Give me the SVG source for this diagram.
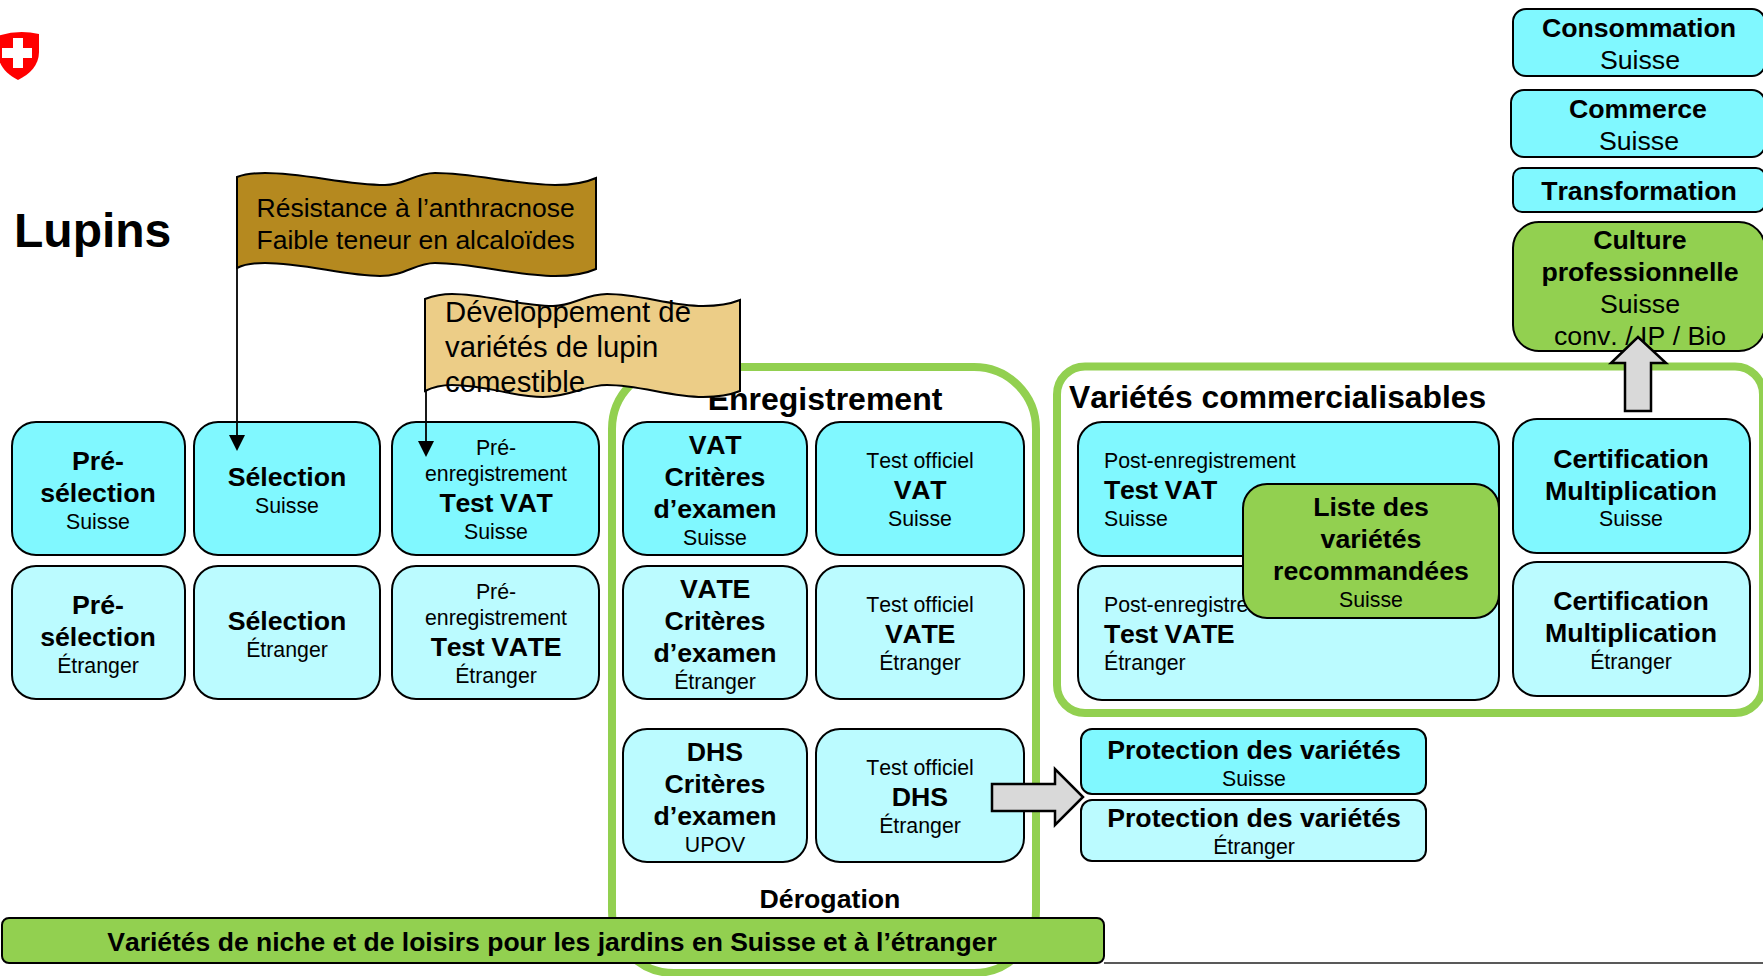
<svg xmlns="http://www.w3.org/2000/svg" width="1763" height="976" viewBox="0 0 1763 976">
<style>
text{font-family:"Liberation Sans",Arial,sans-serif;fill:#000;font-kerning:none}
.b{font-weight:700;font-size:26.7px}
.k{letter-spacing:-.35px}
.s{font-size:21.3px}
.t{font-size:26.7px}
.m{text-anchor:middle}
.n rect{stroke:#000;stroke-width:2}
.c{fill:#80F8FF}
.l{fill:#BBFBFF}
.g{fill:#92D050}
.frame{fill:#fff;stroke:#92D050;stroke-width:8}
.arrow{fill:#D9D9D9;stroke:#000;stroke-width:2.5}
.flag{stroke:#000;stroke-width:2}
.pole{fill:none;stroke:#000;stroke-width:1.8;marker-end:url(#tip)}
</style>
<defs>
<marker id="tip" markerUnits="userSpaceOnUse" markerWidth="16" markerHeight="16" refX="10" refY="8" orient="auto"><path d="M0 0L16 8L0 16Z" fill="#000"/></marker>
</defs>
<rect width="1763" height="976" fill="#fff"/>
<g id="logo">
<path d="M-2 36Q18 29 39 34V52C39 65 30 74 18 80C6 74 -2 65 -2 52Z" fill="#FF0000"/>
<path d="M13 38H23V48H32V58H23V68H13V58H2V48H13Z" fill="#fff"/>
</g>
<text id="title" x="14" y="247" font-size="48" font-weight="700">Lupins</text>
<rect id="frame-enregistrement" class="frame" x="612" y="367" width="424" height="606" rx="62"/>
<rect id="frame-varietes" class="frame" x="1057" y="366.500" width="706" height="346.500" rx="28"/>
<path id="baseline" d="M1104 963H1763" stroke="#222" stroke-width="1.500"/>
<text id="label-enregistrement" class="m" x="825" y="410" font-size="32" font-weight="700">Enregistrement</text>
<text id="label-varietes" x="1069" y="408" font-size="31.800" font-weight="700">Variétés commercialisables</text>
<text id="label-derogation" class="b m" x="830" y="908">Dérogation</text>

<g id="preselection-ch" class="n"><rect class="c" x="12" y="422" width="173" height="133" rx="24"/><text class="b m" x="98" y="470">Pré-</text><text class="b m" x="98" y="502">sélection</text><text class="s m" x="98" y="529">Suisse</text></g>
<g id="preselection-et" class="n"><rect class="l" x="12" y="566" width="173" height="133" rx="24"/><text class="b m" x="98" y="614">Pré-</text><text class="b m" x="98" y="646">sélection</text><text class="s m" x="98" y="673">Étranger</text></g>
<g id="selection-ch" class="n"><rect class="c" x="194" y="422" width="186" height="133" rx="24"/><text class="b m" x="287" y="486">Sélection</text><text class="s m" x="287" y="513">Suisse</text></g>
<g id="selection-et" class="n"><rect class="l" x="194" y="566" width="186" height="133" rx="24"/><text class="b m" x="287" y="630">Sélection</text><text class="s m" x="287" y="657">Étranger</text></g>
<g id="preenr-vat" class="n"><rect class="c" x="392" y="422" width="207" height="133" rx="24"/><text class="s m" x="496" y="455">Pré-</text><text class="s m" x="496" y="481">enregistrement</text><text class="b m k" x="496" y="512">Test VAT</text><text class="s m" x="496" y="539">Suisse</text></g>
<g id="preenr-vate" class="n"><rect class="l" x="392" y="566" width="207" height="133" rx="24"/><text class="s m" x="496" y="599">Pré-</text><text class="s m" x="496" y="625">enregistrement</text><text class="b m k" x="496" y="656">Test VATE</text><text class="s m" x="496" y="683">Étranger</text></g>

<g id="vat-criteres" class="n"><rect class="c" x="623" y="422" width="184" height="133" rx="24"/><text class="b m k" x="715" y="454">VAT</text><text class="b m" x="715" y="486">Critères</text><text class="b m" x="715" y="518">d’examen</text><text class="s m" x="715" y="545">Suisse</text></g>
<g id="vat-test" class="n"><rect class="c" x="816" y="422" width="208" height="133" rx="24"/><text class="s m" x="920" y="468">Test officiel</text><text class="b m k" x="920" y="499">VAT</text><text class="s m" x="920" y="526">Suisse</text></g>
<g id="vate-criteres" class="n"><rect class="l" x="623" y="566" width="184" height="133" rx="24"/><text class="b m k" x="715" y="598">VATE</text><text class="b m" x="715" y="630">Critères</text><text class="b m" x="715" y="662">d’examen</text><text class="s m" x="715" y="689">Étranger</text></g>
<g id="vate-test" class="n"><rect class="l" x="816" y="566" width="208" height="133" rx="24"/><text class="s m" x="920" y="612">Test officiel</text><text class="b m k" x="920" y="643">VATE</text><text class="s m" x="920" y="670">Étranger</text></g>
<g id="dhs-criteres" class="n"><rect class="l" x="623" y="729" width="184" height="133" rx="24"/><text class="b m" x="715" y="761">DHS</text><text class="b m" x="715" y="793">Critères</text><text class="b m" x="715" y="825">d’examen</text><text class="s m" x="715" y="852">UPOV</text></g>
<g id="dhs-test" class="n"><rect class="l" x="816" y="729" width="208" height="133" rx="24"/><text class="s m" x="920" y="775">Test officiel</text><text class="b m" x="920" y="806">DHS</text><text class="s m" x="920" y="833">Étranger</text></g>

<g id="post-vat" class="n"><rect class="c" x="1078" y="422" width="421" height="134" rx="24"/><text class="s" x="1104" y="468">Post-enregistrement</text><text class="b k" x="1104" y="499">Test VAT</text><text class="s" x="1104" y="526">Suisse</text></g>
<g id="post-vate" class="n"><rect class="l" x="1078" y="566" width="421" height="134" rx="24"/><text class="s" x="1104" y="612">Post-enregistrement</text><text class="b k" x="1104" y="643">Test VATE</text><text class="s" x="1104" y="670">Étranger</text></g>
<g id="cert-ch" class="n"><rect class="c" x="1513" y="419" width="237" height="134" rx="24"/><text class="b m" x="1631" y="468">Certification</text><text class="b m" x="1631" y="500">Multiplication</text><text class="s m" x="1631" y="526">Suisse</text></g>
<g id="cert-et" class="n"><rect class="l" x="1513" y="562" width="237" height="134" rx="24"/><text class="b m" x="1631" y="610">Certification</text><text class="b m" x="1631" y="642">Multiplication</text><text class="s m" x="1631" y="669">Étranger</text></g>
<g id="liste" class="n"><rect class="g" x="1243" y="484" width="256" height="134" rx="24"/><text class="b m" x="1371" y="516">Liste des</text><text class="b m" x="1371" y="548">variétés</text><text class="b m" x="1371" y="580">recommandées</text><text class="s m" x="1371" y="607">Suisse</text></g>

<g id="protection-ch" class="n"><rect class="c" x="1081" y="729" width="345" height="65" rx="11"/><text class="b m" x="1254" y="759">Protection des variétés</text><text class="s m" x="1254" y="786">Suisse</text></g>
<g id="protection-et" class="n"><rect class="l" x="1081" y="800" width="345" height="61" rx="11"/><text class="b m" x="1254" y="827">Protection des variétés</text><text class="s m" x="1254" y="854">Étranger</text></g>

<g id="consommation" class="n"><rect class="c" x="1513" y="9" width="252" height="67" rx="13"/><text class="b m" x="1639" y="37">Consommation</text><text class="t m" x="1640" y="69">Suisse</text></g>
<g id="commerce" class="n"><rect class="c" x="1511" y="90" width="254" height="67" rx="13"/><text class="b m" x="1638" y="118">Commerce</text><text class="t m" x="1639" y="150">Suisse</text></g>
<g id="transformation" class="n"><rect class="c" x="1513" y="168" width="252" height="44" rx="9"/><text class="b m" x="1639" y="200">Transformation</text></g>
<g id="culture" class="n"><rect class="g" x="1513" y="222" width="252" height="129" rx="26"/><text class="b m" x="1640" y="249">Culture</text><text class="b m" x="1640" y="281">professionnelle</text><text class="t m" x="1640" y="313">Suisse</text><text class="t m" x="1640" y="345">conv. / IP / Bio</text></g>

<g id="connectors">
<path class="arrow" d="M992 784H1055V769L1083 797L1055 825V811H992Z"/>
<path class="arrow" d="M1625 411V363H1611L1638 337L1666 363H1651V411Z"/>
<path class="pole" d="M237 268V445"/>
<path class="pole" d="M426 390V451"/>
</g>

<g id="bar" class="n"><rect class="g" x="2" y="918" width="1102" height="45" rx="7"/><text class="b m" x="552" y="951" style="font-size:26.5px">Variétés de niche et de loisirs pour les jardins en Suisse et à l’étranger</text></g>

<g id="flag-resistance"><path class="flag" fill="#B5891F" d="M237 177C245 174 255 173 265 173C305 173 345 185 385 185C405 185 415 173 435 173C475 173 515 185 555 185C570 185 585 183 596 178V269C585 274 570 276 555 276C515 276 475 263 435 263C415 263 405 276 380 276C345 276 305 263 265 263C255 263 245 264 237 268Z"/><text x="256.500" y="217" font-size="26.500">Résistance à l’anthracnose</text><text x="256.500" y="249" font-size="26.500">Faible teneur en alcaloïdes</text></g>
<g id="flag-developpement"><path class="flag" fill="#ECCD87" d="M425 299C433 296 442 294 452 294C485 294 520 306 553 306C573 306 585 294 607 294C640 294 670 306 703 306C717 306 730 304 740 300V391C730 395 717 397 703 397C670 397 640 385 607 385C585 385 570 397 543 397C515 397 485 385 452 385C442 385 433 387 425 391Z"/><text x="445" y="321.500" font-size="29.300">Développement de</text><text x="445" y="357" font-size="29.300">variétés de lupin</text><text x="445" y="392" font-size="29.300">comestible</text></g>
</svg>
